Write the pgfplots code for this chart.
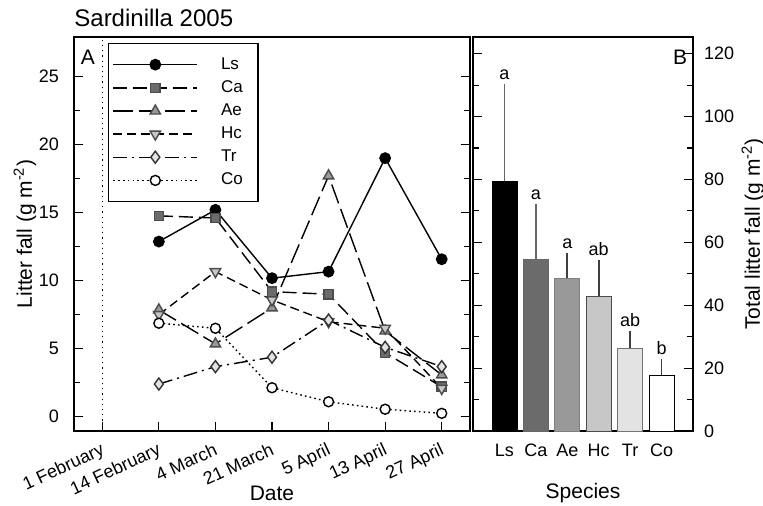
\documentclass[border=0pt]{standalone}
\usepackage{fontspec}
\setmainfont{Liberation Sans}
\usepackage{pgfplots}
\pgfplotsset{compat=1.18}
\definecolor{caG}{gray}{0.42}
\definecolor{aeG}{gray}{0.60}
\definecolor{hcG}{gray}{0.78}
\definecolor{trG}{gray}{0.89}
\newcommand{\tickfont}{\fontsize{9}{11}\selectfont}
\newcommand{\labfont}{\fontsize{10.5}{12.5}\selectfont}
\newcommand{\titfont}{\fontsize{12}{14}\selectfont}
\newcommand{\panfont}{\fontsize{10.5}{12.5}\selectfont}
\begin{document}
\begin{tikzpicture}
\pgfplotsset{
  /pgf/number format/assume math mode=true,
  every axis/.append style={
    scale only axis, height=197pt, clip=false,
    axis line style={line width=0.8pt},
    tick style={line width=0.6pt, black},
    tick align=inside,
    tick label style={font=\tickfont},
  },
}
% ---------------- Panel A ----------------
\begin{axis}[
  at={(0pt,0pt)}, anchor=south west, width=198pt,
  xmin=-0.5, xmax=6.5, ymin=-1.05, ymax=27.9,
  xtick={0,...,6},
  xticklabels={1 February,14 February,4 March,21 March,5 April,13 April,27 April},
  xtick pos=left, ytick pos=both,
  ytick={0,5,...,25}, minor y tick num=1,
  xticklabel style={rotate=25, anchor=north east, yshift=-1pt},
  yticklabel style={xshift=-4pt},
  every axis x label/.style={at={(rel axis cs:0.5,0)}, yshift=-31pt, anchor=center, font=\labfont},
  every axis y label/.style={at={(rel axis cs:0,0.5)}, xshift=-24.5pt, rotate=90, anchor=center, font=\labfont},
  xlabel={Date},
  ylabel={Litter fall (g m\textsuperscript{-2})},
  legend style={at={(0.0859,0.9855)}, anchor=north west,
    font=\fontsize{8.5}{10}\selectfont, draw=black, line width=0.6pt,
    inner xsep=2pt, inner ysep=5pt, row sep=0.2pt, cells={anchor=west},
    /tikz/every odd column/.append style={column sep=9.5pt},
    /tikz/every even column/.append style={text width=14.5pt}},
  legend image code/.code={\draw[mark repeat=2,mark phase=2,#1] plot coordinates {(0pt,0pt) (21pt,0pt) (42pt,0pt)};},
]
\addplot[black, dotted, line width=0.6pt, forget plot] coordinates {(0,-1.05) (0,27.9)};
% Ls
\addplot[black, line width=0.7pt, mark=*, mark size=2.6pt, mark options={solid, fill=black}]
  coordinates {(1,12.87) (2,15.2) (3,10.18) (4,10.66) (5,19.0) (6,11.57)};
% Ca
\addplot[black, line width=0.7pt, dash pattern=on 7pt off 3pt, mark=square*, mark size=2.3pt, mark options={solid, fill=caG, draw=black!70}]
  coordinates {(1,14.76) (2,14.6) (3,9.19) (4,9.0) (5,4.7) (6,2.2)};
% Ae
\addplot[black, line width=0.7pt, dash pattern=on 10pt off 3pt, mark=triangle*, mark size=3pt, mark options={solid, fill=aeG, draw=black!70}]
  coordinates {(1,7.85) (2,5.35) (3,8.0) (4,17.7) (5,6.3) (6,3.07)};
% Hc
\addplot[black, line width=0.7pt, dash pattern=on 4.5pt off 2.5pt, mark=triangle*, mark size=3pt, mark options={solid, rotate=180, fill=hcG, draw=black!70}]
  coordinates {(1,7.5) (2,10.66) (3,8.58) (4,6.98) (5,6.5) (6,2.08)};
% Tr
\addplot[black, line width=0.7pt, dash pattern=on 7pt off 2.5pt on 1pt off 2.5pt, mark=diamond*, mark size=3pt, mark options={solid, fill=trG, draw=black!80}]
  coordinates {(1,2.4) (2,3.68) (3,4.37) (4,7.1) (5,5.1) (6,3.68)};
% Co
\addplot[black, line width=0.7pt, dash pattern=on 0.8pt off 1.6pt, mark=*, mark size=2.5pt, mark options={solid, fill=white, draw=black}]
  coordinates {(1,6.87) (2,6.5) (3,2.13) (4,1.1) (5,0.55) (6,0.25)};
\legend{Ls,Ca,Ae,Hc,Tr,Co}
\node[anchor=base west, inner xsep=0pt] at (rel axis cs:0,1) [yshift=5.5pt] {\titfont Sardinilla 2005};
\node at (rel axis cs:0,1) [xshift=7pt, yshift=-10pt] {\panfont A};
\end{axis}
% ---------------- Panel B ----------------
\begin{axis}[
  at={(199.5pt,0pt)}, anchor=south west, width=110pt,
  xmin=-1, xmax=6, ymin=0, ymax=125.3,
  xtick={0,...,5}, xticklabels={Ls,Ca,Ae,Hc,Tr,Co},
  major x tick style={draw=none}, xtick pos=left,
  ytick={0,20,...,120}, minor y tick num=1,
  ytick pos=both, yticklabel pos=right,
  yticklabel style={xshift=2pt},
  xticklabel style={yshift=-3pt},
  every axis x label/.style={at={(rel axis cs:0.5,0)}, yshift=-31pt, anchor=center, font=\labfont},
  every axis y label/.style={at={(rel axis cs:1,0.5)}, xshift=30pt, rotate=90, anchor=center, font=\labfont},
  xlabel={Species},
  ylabel={Total litter fall (g m\textsuperscript{-2})},
]
\addplot[ybar, bar width=12.5pt, bar shift=0pt, fill=black, draw=black,
  error bars/.cd, y dir=plus, y explicit, error mark=none, error bar style={line width=0.8pt, color=black!60}]
  coordinates {(0,79.4) +- (0,30.9)};
\addplot[ybar, bar width=12.5pt, bar shift=0pt, fill=caG, draw=black!60,
  error bars/.cd, y dir=plus, y explicit, error mark=none, error bar style={line width=0.8pt, color=black!60}]
  coordinates {(1,54.6) +- (0,17.6)};
\addplot[ybar, bar width=12.5pt, bar shift=0pt, fill=aeG, draw=black!50,
  error bars/.cd, y dir=plus, y explicit, error mark=none, error bar style={line width=0.8pt, color=black!75}]
  coordinates {(2,48.6) +- (0,7.9)};
\addplot[ybar, bar width=12.5pt, bar shift=0pt, fill=hcG, draw=black!70,
  error bars/.cd, y dir=plus, y explicit, error mark=none, error bar style={line width=0.8pt, color=black!75}]
  coordinates {(3,42.8) +- (0,11.6)};
\addplot[ybar, bar width=12.5pt, bar shift=0pt, fill=trG, draw=black!55,
  error bars/.cd, y dir=plus, y explicit, error mark=none, error bar style={line width=0.8pt, color=black!75}]
  coordinates {(4,26.4) +- (0,5.3)};
\addplot[ybar, bar width=12.5pt, bar shift=0pt, fill=white, draw=black,
  error bars/.cd, y dir=plus, y explicit, error mark=none, error bar style={line width=0.8pt, color=black!75}]
  coordinates {(5,17.8) +- (0,5.2)};
\addplot[only marks, mark=none, nodes near coords, point meta=explicit symbolic,
  nodes near coords style={anchor=south, font=\tickfont, inner sep=2pt}]
  coordinates {(0,110.3)[a] (1,72.2)[a] (2,56.5)[a] (3,54.4)[ab] (4,31.7)[ab] (5,23)[b]};
\node at (rel axis cs:1,1) [xshift=-6.5pt, yshift=-10pt] {\panfont B};
\end{axis}
\pgfresetboundingbox
\path[use as bounding box] (-37pt,-37pt) rectangle (344.5pt,215.5pt);
\end{tikzpicture}
\end{document}
